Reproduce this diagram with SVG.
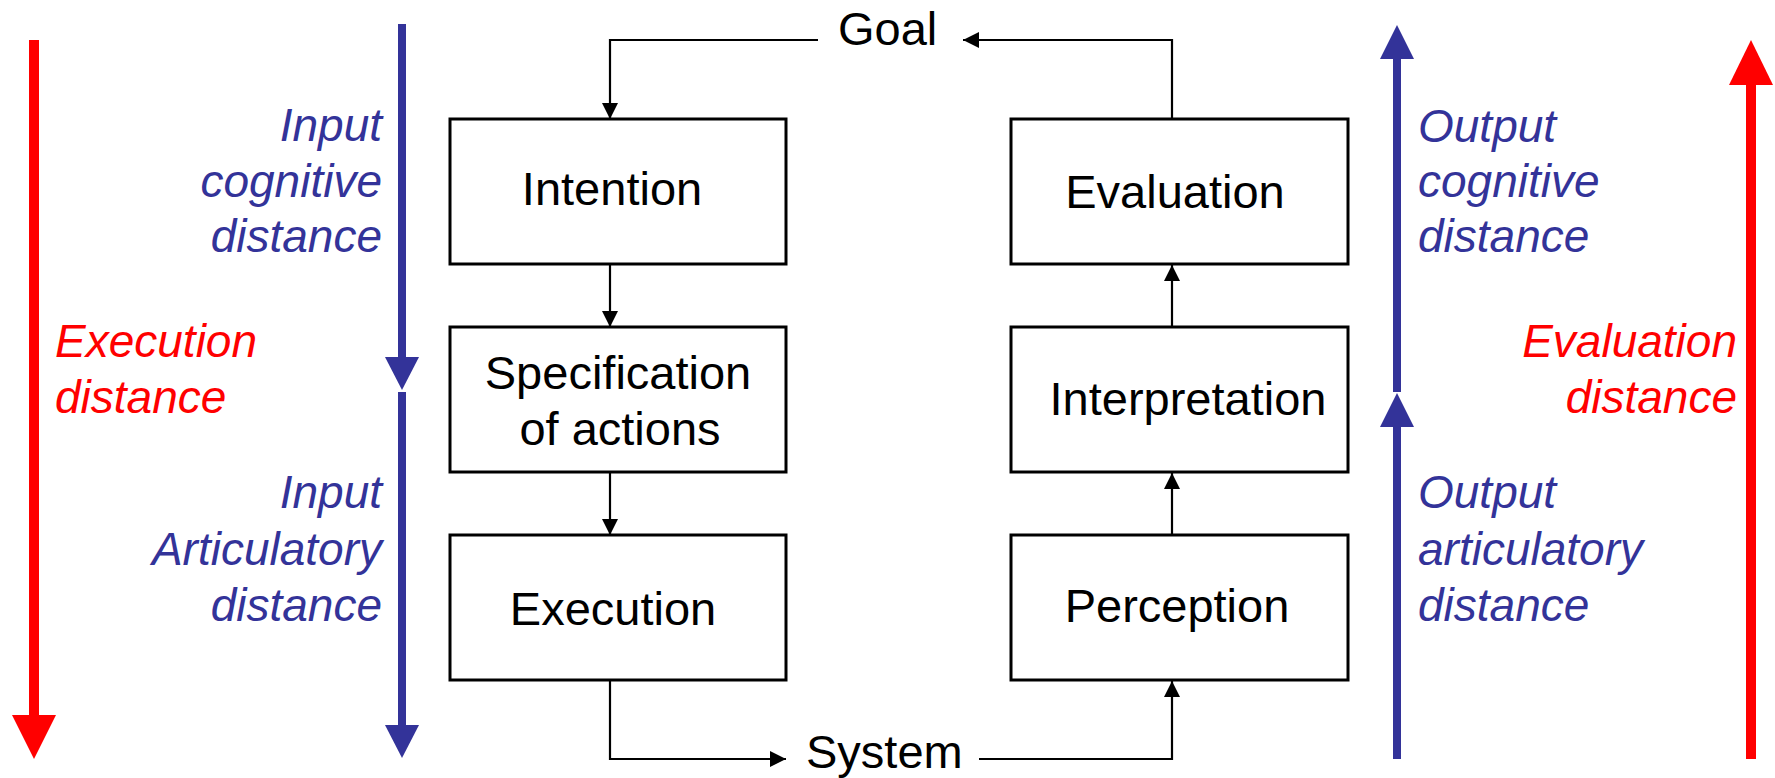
<svg xmlns="http://www.w3.org/2000/svg" width="1775" height="778" viewBox="0 0 1775 778">
<defs>
<style>
.box{fill:#fff;stroke:#000;stroke-width:3}
.lbl{font-family:"Liberation Sans",Arial,sans-serif;font-size:47px;fill:#000;text-anchor:middle}
.lbs{font-family:"Liberation Sans",Arial,sans-serif;font-size:47px;fill:#000;text-anchor:start}
.conn{fill:none;stroke:#000;stroke-width:2.2}
.blue{font-family:"Liberation Sans",Arial,sans-serif;font-size:46px;font-style:italic;fill:#333399}
.red{font-family:"Liberation Sans",Arial,sans-serif;font-size:46px;font-style:italic;fill:#ff0000}
.bl{stroke:#333399;stroke-width:8}
.rl{stroke:#ff0000;stroke-width:10}
</style>
<marker id="ah" markerUnits="userSpaceOnUse" markerWidth="16" markerHeight="16" viewBox="0 0 16 16" refX="16" refY="8" orient="auto">
<path d="M0,0 L16,8 L0,16 z" fill="#000"/>
</marker>
</defs>
<rect width="1775" height="778" fill="#fff"/>

<g id="distances">
<line class="rl" x1="34" y1="40" x2="34" y2="718"/>
<polygon points="12,715 56,715 34,759" fill="#ff0000"/>
<line class="bl" x1="402" y1="24" x2="402" y2="360"/>
<polygon points="385,357 419,357 402,390" fill="#333399"/>
<line class="bl" x1="402" y1="392" x2="402" y2="728"/>
<polygon points="385,725 419,725 402,758" fill="#333399"/>
<line class="bl" x1="1397" y1="759" x2="1397" y2="424"/>
<polygon points="1380,427 1414,427 1397,393" fill="#333399"/>
<line class="bl" x1="1397" y1="392" x2="1397" y2="56"/>
<polygon points="1380,59 1414,59 1397,25" fill="#333399"/>
<line class="rl" x1="1751" y1="759" x2="1751" y2="82"/>
<polygon points="1729,85 1773,85 1751,40" fill="#ff0000"/>
<text class="red" x="55" y="357">Execution</text>
<text class="red" x="55" y="413">distance</text>
<text class="red" x="1737" y="357" text-anchor="end">Evaluation</text>
<text class="red" x="1737" y="413" text-anchor="end">distance</text>
<g text-anchor="end">
<text class="blue" x="382" y="141">Input</text>
<text class="blue" x="382" y="197">cognitive</text>
<text class="blue" x="382" y="252">distance</text>
<text class="blue" x="382" y="508">Input</text>
<text class="blue" x="382" y="565">Articulatory</text>
<text class="blue" x="382" y="621">distance</text>
</g>
<text class="blue" x="1418" y="142">Output</text>
<text class="blue" x="1418" y="197">cognitive</text>
<text class="blue" x="1418" y="252">distance</text>
<text class="blue" x="1418" y="508">Output</text>
<text class="blue" x="1418" y="565">articulatory</text>
<text class="blue" x="1418" y="621">distance</text>
</g>

<g id="connectors">
<path class="conn" d="M818,40 H610 V119" marker-end="url(#ah)"/>
<path class="conn" d="M610,264 V327" marker-end="url(#ah)"/>
<path class="conn" d="M610,472 V535" marker-end="url(#ah)"/>
<path class="conn" d="M610,680 V759 H786" marker-end="url(#ah)"/>
<path class="conn" d="M979,759 H1172 V681" marker-end="url(#ah)"/>
<path class="conn" d="M1172,535 V473" marker-end="url(#ah)"/>
<path class="conn" d="M1172,327 V265" marker-end="url(#ah)"/>
<path class="conn" d="M1172,119 V40 H963" marker-end="url(#ah)"/>
</g>

<g id="goal"><text class="lbs" x="838" y="45">Goal</text></g>
<g id="system"><text class="lbs" x="806" y="768">System</text></g>

<g id="intention">
<rect class="box" x="450" y="119" width="336" height="145"/>
<text class="lbl" x="612" y="205">Intention</text>
</g>
<g id="specification">
<rect class="box" x="450" y="327" width="336" height="145"/>
<text class="lbl" x="618" y="389">Specification</text>
<text class="lbl" x="620" y="445">of actions</text>
</g>
<g id="execution">
<rect class="box" x="450" y="535" width="336" height="145"/>
<text class="lbl" x="613" y="625">Execution</text>
</g>
<g id="evaluation">
<rect class="box" x="1011" y="119" width="337" height="145"/>
<text class="lbl" x="1175" y="208">Evaluation</text>
</g>
<g id="interpretation">
<rect class="box" x="1011" y="327" width="337" height="145"/>
<text class="lbl" x="1188" y="415">Interpretation</text>
</g>
<g id="perception">
<rect class="box" x="1011" y="535" width="337" height="145"/>
<text class="lbl" x="1177" y="622">Perception</text>
</g>
</svg>
